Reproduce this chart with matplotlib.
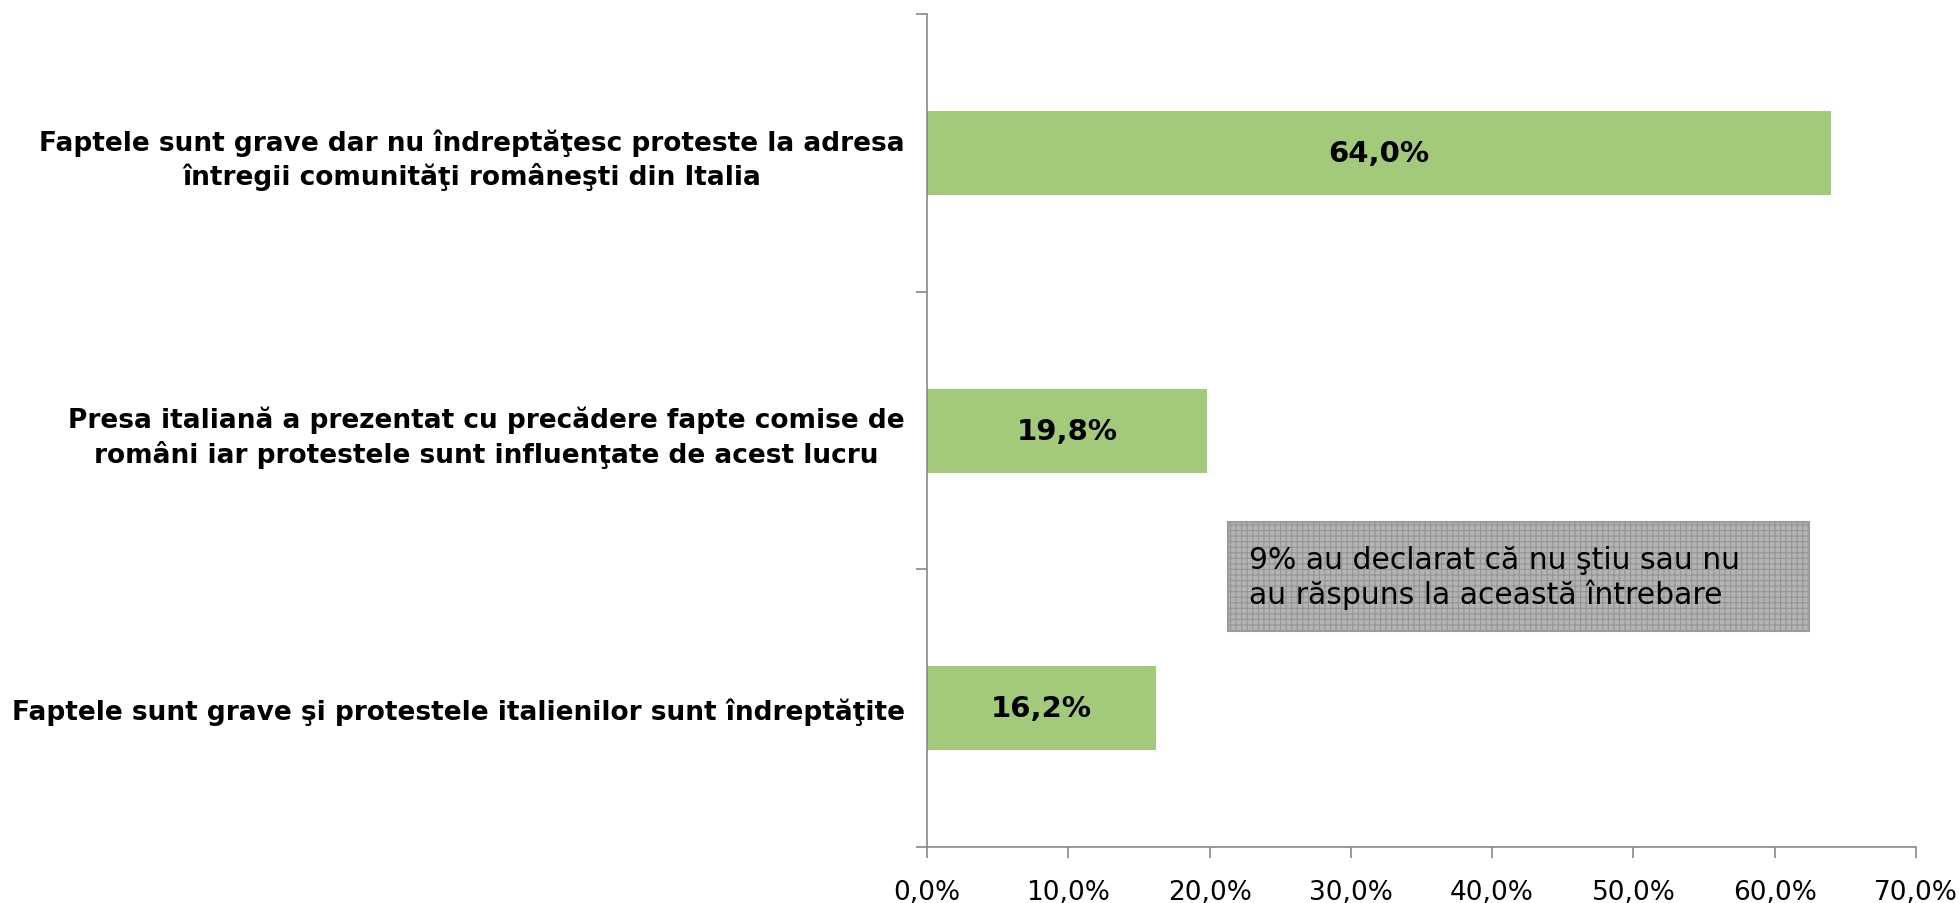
import matplotlib.pyplot as plt
from matplotlib.patches import Rectangle
from matplotlib.ticker import FuncFormatter, MultipleLocator

categories = [
    "Faptele sunt grave dar nu îndreptăţesc proteste la adresa\nîntregii comunităţi româneşti din Italia",
    "Presa italiană a prezentat cu precădere fapte comise de\nromâni iar protestele sunt influenţate de acest lucru",
    "Faptele sunt grave şi protestele italienilor sunt îndreptăţite",
]
values = [64.0, 19.8, 16.2]
note = "9% au declarat că nu ştiu sau nu\nau răspuns la această întrebare"

plt.rcParams['font.family'] = ['DejaVu Sans']
plt.rcParams['hatch.linewidth'] = 0.8

fig = plt.figure(figsize=(19.6, 9.04), dpi=100)
ax = fig.add_axes([0.473, 0.062, 0.5045, 0.921])

ypos = list(range(len(values)))[::-1]
bars = ax.barh(ypos, values, height=0.303, color='#A3C97B')
for y, v in zip(ypos, values):
    ax.text(v / 2, y, f"{v:.1f}%".replace('.', ','), ha='center', va='center',
            fontsize=21, fontweight='bold', color='black')

ax.set_xlim(0, 70)
ax.set_ylim(-0.5, len(values) - 0.5)
ax.xaxis.set_major_locator(MultipleLocator(10))
ax.xaxis.set_major_formatter(FuncFormatter(lambda x, p: f"{x:.1f}%".replace('.', ',')))

# category labels at bar centres, tick marks at boundaries
ax.set_yticks([-0.5, 0.5, 1.5, 2.5])
ax.set_yticklabels([])
ax.set_yticks(ypos, minor=True)
ax.set_yticklabels(categories, minor=True, fontsize=19, fontweight='bold',
                   multialignment='center', linespacing=1.3)
ax.tick_params(axis='y', which='minor', length=0, pad=16)
ax.tick_params(axis='y', which='major', length=8, width=1.2, color='#888888', direction='out')
ax.tick_params(axis='x', length=8, width=1.2, color='#888888', labelsize=19, pad=15)

for s in ['top', 'right']:
    ax.spines[s].set_visible(False)
for s in ['left', 'bottom']:
    ax.spines[s].set_color('#888888')
    ax.spines[s].set_linewidth(1.2)

# note box
x0, y0, w, h = 0.304, 0.259, 0.588, 0.131
ax.add_patch(Rectangle((x0, y0), w, h, transform=ax.transAxes, facecolor='#B4B4B4',
                       edgecolor='none', zorder=3))
ax.add_patch(Rectangle((x0, y0), w, h, transform=ax.transAxes, facecolor='none',
                       edgecolor='#959595', hatch='+++', linewidth=0, zorder=4))
ax.add_patch(Rectangle((x0, y0), w, h, transform=ax.transAxes, facecolor='none',
                       edgecolor='#9A9A9A', linewidth=1.5, zorder=5))
ax.text(x0 + 0.022, y0 + h / 2, note, transform=ax.transAxes, ha='left', va='center',
        fontsize=21.5, linespacing=1.17, color='black', zorder=6)

fig.savefig('out.png', dpi=100)
